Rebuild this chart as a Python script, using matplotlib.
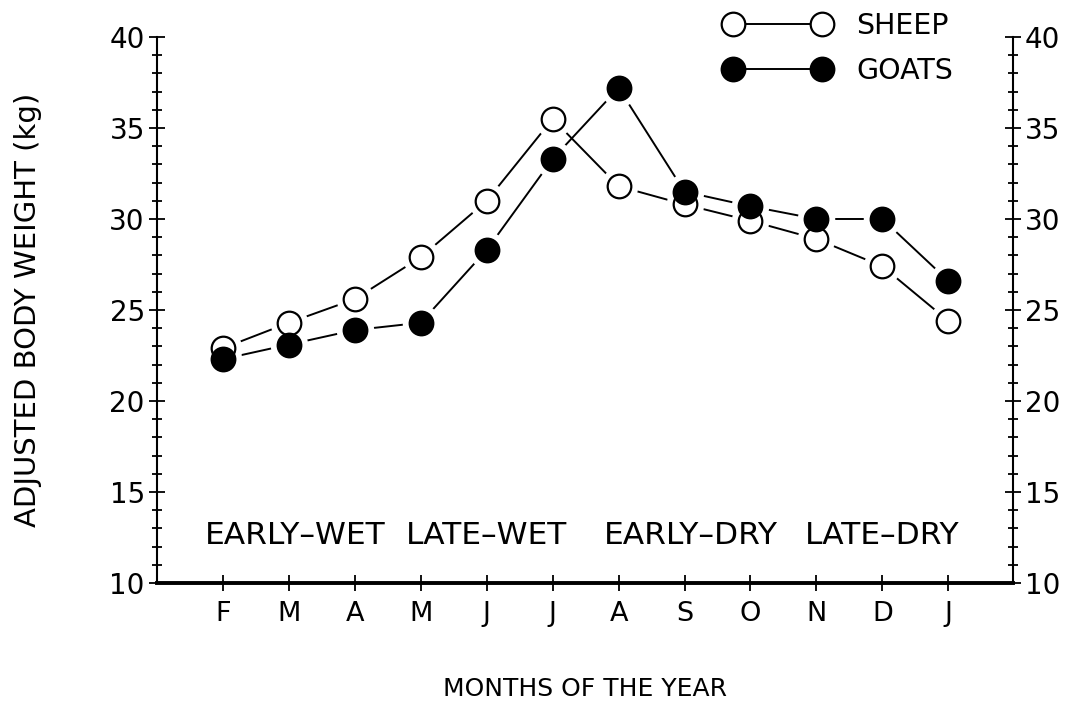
import matplotlib
matplotlib.use("Agg")
import matplotlib.pyplot as plt
from matplotlib.lines import Line2D
from matplotlib.ticker import MultipleLocator

plt.rcParams['font.family'] = ['DejaVu Sans']

# Data
months = ["F", "M", "A", "M", "J", "J", "A", "S", "O", "N", "D", "J"]
sheep = [22.9, 24.3, 25.6, 27.9, 31.0, 35.5, 31.8, 30.8, 29.9, 28.9, 27.4, 24.4]
goats = [22.3, 23.1, 23.9, 24.3, 28.3, 33.3, 37.2, 31.5, 30.7, 30.0, 30.0, 26.6]
seasons = ["EARLY\u2013WET", "LATE\u2013WET", "EARLY\u2013DRY", "LATE\u2013DRY"]
season_pos = [1.1, 4.0, 7.1, 10.0]

x = list(range(len(months)))

fig = plt.figure(figsize=(10.85, 7.21), dpi=100)
ax = fig.add_axes([0.1447, 0.1914, 0.7889, 0.7573])

ms = 17
halo = 27
lw = 1.4
# lines, then white halos so each line stops short of the circles
ax.plot(x, sheep, color='black', lw=lw, zorder=1)
ax.plot(x, goats, color='black', lw=lw, zorder=1)
ax.plot(x, sheep, 'o', ms=halo, mfc='white', mec='none', zorder=2)
ax.plot(x, goats, 'o', ms=halo, mfc='white', mec='none', zorder=2)
ax.plot(x, sheep, 'o', ms=ms, mfc='white', mec='black', mew=1.6, zorder=3)
ax.plot(x, goats, 'o', ms=ms, mfc='black', mec='black', mew=1.6, zorder=4)

for s, p in zip(seasons, season_pos):
    ax.text(p, 12.6, s, ha='center', va='center', fontsize=22.5)

ax.set_xlim(-1, 11.98)
ax.set_ylim(10, 40)
ax.set_xticks(x)
ax.set_xticklabels(months, fontsize=19.5)
ax.yaxis.set_major_locator(MultipleLocator(5))
ax.yaxis.set_minor_locator(MultipleLocator(1))
ax.tick_params(axis='y', which='both', direction='inout', left=True, right=True,
               labelleft=True, labelright=True, labelsize=20, width=1.3)
ax.tick_params(axis='y', which='major', length=11.5, pad=3)
ax.tick_params(axis='y', which='minor', length=7)
ax.tick_params(axis='x', which='major', direction='inout', length=11.5,
               width=1.3, pad=7)

ax.spines['top'].set_visible(False)
ax.spines['left'].set_linewidth(1.5)
ax.spines['right'].set_linewidth(1.5)
ax.spines['bottom'].set_linewidth(2.8)

ax.set_ylabel("ADJUSTED BODY WEIGHT (kg)", fontsize=21)
ax.yaxis.set_label_coords(-0.134, 0.5)
ax.set_xlabel("MONTHS OF THE YEAR", fontsize=18)
ax.xaxis.set_label_coords(0.5, -0.173)

handles = [
    Line2D([], [], color='black', lw=lw, marker='o', ms=ms, mfc='white',
           mec='black', mew=1.6),
    Line2D([], [], color='black', lw=lw, marker='o', ms=ms, mfc='black',
           mec='black', mew=1.6),
]
ax.legend(handles, ["SHEEP", "GOATS"], numpoints=2, frameon=False,
          fontsize=20.5, handlelength=3.75, handletextpad=0.9,
          labelspacing=0.6, loc='upper left',
          bbox_to_anchor=(724 / 1085, 1 - 12 / 721),
          bbox_transform=fig.transFigure, borderaxespad=0, borderpad=0)

fig.savefig("out.png", dpi=100)
